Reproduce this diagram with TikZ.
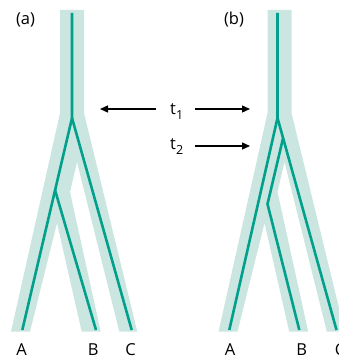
\documentclass[tikz,border=0pt]{standalone}
\usepackage{fontspec}
\setmainfont{Open Sans}
\usetikzlibrary{arrows.meta}
\definecolor{bandcol}{HTML}{CBE6E0}
\definecolor{genecol}{HTML}{00A08C}
\newcommand\speciesband{%
  \fill[bandcol] (60,10) -- (84,10) -- (84,113) -- (137.3,331.7) -- (119.3,331.7)
    -- (77,162) -- (70,192) -- (100.7,331.7) -- (81.7,331.7) -- (57,223)
    -- (30,331.7) -- (11,331.7) -- (60,113) -- cycle;}
\newcommand\tsub[1]{\raisebox{-5.5pt}{\fontsize{12.5}{12.5}\selectfont #1}}
\begin{document}
\begin{tikzpicture}[x=1pt,y=-1pt,
  geneline/.style={draw=genecol,line width=2.6pt,line join=miter},
  timearrow/.style={line width=1.3pt,-{Triangle[length=8pt,width=7pt]}},
  lbl/.style={font=\fontsize{16.5}{18}\selectfont,inner sep=0pt,anchor=base}]
\useasboundingbox (0,0) rectangle (339,358);
\clip (0,0) rectangle (339,358);
% species trees
\speciesband
\begin{scope}[xshift=207.5pt]
\speciesband
\end{scope}
% gene tree (a)
\coordinate (aR) at (72,13);
\coordinate (aN1) at (72,118);
\coordinate (aN2) at (55,190);
\coordinate (aA) at (22.3,330);
\coordinate (aB) at (96,330);
\coordinate (aC) at (131.7,330);
\draw[geneline] (aR) -- (aN1) -- (aA);
\draw[geneline] (aN1) -- (aC);
\draw[geneline] (aN2) -- (aB);
% gene tree (b)
\coordinate (bR) at (277.5,13);
\coordinate (bN1) at (277.5,118);
\coordinate (bN2) at (283.1,138);
\coordinate (bK) at (267.5,204);
\coordinate (bA) at (229.3,330);
\coordinate (bB) at (299.3,330);
\coordinate (bC) at (336.5,330);
\draw[geneline] (bR) -- (bN1) -- (bA);
\draw[geneline] (bN1) -- (bC);
\draw[geneline] (bN2) -- (bK) -- (bB);
% labels
\node[lbl] (la) at (25.5,24.3) {(a)};
\node[lbl] (lb) at (234,24.3) {(b)};
\node[lbl] (tA) at (21.7,355) {A};
\node[lbl] (tB) at (93.3,355) {B};
\node[lbl] (tC) at (130.7,355) {C};
\node[lbl] (tA2) at (230,355) {A};
\node[lbl] (tB2) at (301.7,355) {B};
\node[lbl] (tC2) at (340,355) {C};
\node[lbl,anchor=base west] (t1) at (170,114.5) {t\tsub{1}};
\node[lbl,anchor=base west] (t2) at (170,149.5) {t\tsub{2}};
% arrows
\coordinate (a1s) at (156,109);
\coordinate (a1e) at (100,109);
\coordinate (b1s) at (195,109);
\coordinate (b1e) at (250,109);
\coordinate (b2s) at (195,146);
\coordinate (b2e) at (250,146);
\draw[timearrow] (a1s) -- (a1e);
\draw[timearrow] (b1s) -- (b1e);
\draw[timearrow] (b2s) -- (b2e);
\end{tikzpicture}
\end{document}
